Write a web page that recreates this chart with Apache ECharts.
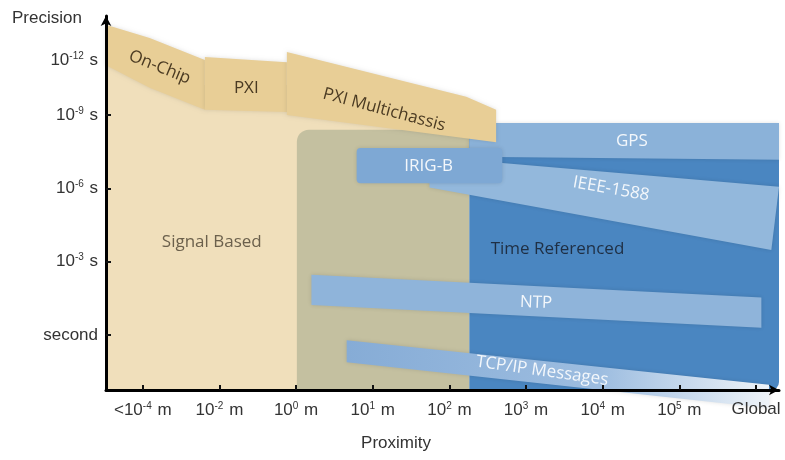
<!DOCTYPE html>
<html>
<head>
<meta charset="utf-8">
<script src="https://cdn.jsdelivr.net/npm/echarts@6/dist/echarts.min.js"></script>
<style>html,body{margin:0;padding:0;background:#fff}#c{width:785px;height:460px}</style>
</head>
<body>
<div id="c"></div>
<script>
// ---- data (x = proximity tick index, y = precision level: 0 = second, 1 = 1e-3 s, ...) ----
const xTickValues = [0, 1, 2, 3, 4, 5, 6, 7, 8];
const xTickLabels = ['<10^-4 m', '10^-2 m', '10^0 m', '10^1 m', '10^2 m', '10^3 m', '10^4 m', '10^5 m', 'Global'];
const yTickValues = [0, 1, 2, 3, 3.75];
const yTickLabels = ['second', '10^-3 s', '10^-6 s', '10^-9 s', '10^-12 s'];

const zoneNames = ['Signal Based', 'Overlap', 'Time Referenced'];
const zonePolygons = [
  [[-0.48, 4.02], [0.81, 3.41], [1.88, 3.41], [4.26, 2.86], [4.26, -0.75], [-0.48, -0.75]],
  [[2.01, 2.80], [4.26, 2.80], [4.26, -0.75], [2.01, -0.75]],
  [[4.26, 2.89], [8.30, 2.89], [8.30, -0.75], [4.26, -0.75]]
];
const zoneLabelAt = [[0.90, 1.26], null, [5.41, 1.17]];

const signalBandNames = ['On-Chip', 'PXI', 'PXI Multichassis'];
const signalBandPolygons = [
  [[-0.48, 4.23], [0.09, 4.05], [0.81, 3.75], [0.81, 3.07], [0.09, 3.37], [-0.48, 3.68]],
  [[0.81, 3.79], [1.88, 3.72], [1.88, 3.04], [0.81, 3.07]],
  [[1.88, 3.86], [4.22, 3.25], [4.61, 3.07], [4.61, 2.63], [1.88, 3.00]]
];
const signalBandLabelAt = [[0.22, 3.65], [1.35, 3.37], [3.15, 3.07]];
const signalBandLabelTilt = [-22, 0, -15];

const timeBandNames = ['GPS', 'IEEE-1588', 'IRIG-B', 'NTP', 'TCP/IP Messages'];
const timeBandPolygons = [
  [[4.26, 2.89], [8.30, 2.89], [8.30, 2.39], [4.26, 2.43]],
  [[3.74, 2.43], [8.30, 2.02], [8.20, 1.16], [3.74, 2.01]],
  [[2.79, 2.55], [4.69, 2.55], [4.69, 2.07], [2.79, 2.07]],
  [[2.20, 0.82], [8.07, 0.51], [8.07, 0.10], [2.20, 0.41]],
  [[2.66, -0.07], [8.17, -0.68], [8.17, -1.00], [2.66, -0.37]]
];
const timeBandLabelAt = [[6.38, 2.64], [6.11, 1.99], [3.73, 2.30], [5.13, 0.44], [5.21, -0.49]];
const timeBandLabelTilt = [0, -10, 0, -2, -8];

// ---- styles ----
const zoneColors = ['#f0dfbb', '#c4c0a0', '#4a86c1'];
const zoneCorner = [null, [12, 0, 0, 0], [0, 8, 8, 0]];
const zoneTextColors = ['#6b604c', null, '#1f2f44'];
const signalBandColor = '#e8ce96';
const timeBandColors = ['#8bb2d9', '#93b8dc', '#7ea8d4', '#8fb4da', 'grad'];
const timeBandCorner = [null, null, 4, null, null];
const axisFamily = '"Liberation Sans", Arial, sans-serif';
const bandFamily = '"Open Sans", "Noto Sans", sans-serif';

function supRich(s) {
  return s.replace(/\^(-?\d+)/, function (m, e) { return '{sup|' + e + '}'; });
}

const chart = echarts.init(document.getElementById('c'), null, { renderer: 'canvas' });

function polySeries(name, polys, colorFn, corners, z, shadow) {
  return {
    type: 'custom', name: name, z: z, silent: true,
    coordinateSystem: 'cartesian2d',
    data: polys.map(function (p) { return p[0]; }),
    renderItem: function (params, api) {
      const i = params.dataIndex;
      const pts = polys[i].map(function (p) { return api.coord(p); });
      const style = { fill: colorFn(i), shadowBlur: shadow, shadowColor: 'rgba(0,0,0,0.12)' };
      if (corners && corners[i] != null) {
        const xs = pts.map(function (p) { return p[0]; });
        const ys = pts.map(function (p) { return p[1]; });
        const x0 = Math.min.apply(null, xs), y0 = Math.min.apply(null, ys);
        return {
          type: 'rect',
          shape: { x: x0, y: y0, width: Math.max.apply(null, xs) - x0, height: Math.max.apply(null, ys) - y0, r: corners[i] },
          style: style
        };
      }
      return { type: 'polygon', shape: { points: pts }, style: style };
    }
  };
}

function labelSeries(name, texts, at, tilt, color, size, z) {
  return {
    type: 'custom', name: name, z: z, silent: true,
    coordinateSystem: 'cartesian2d',
    data: at.map(function (p) { return p ? p : [0, 0]; }),
    renderItem: function (params, api) {
      const i = params.dataIndex;
      if (!at[i]) return null;
      const pt = api.coord(at[i]);
      return {
        type: 'text', x: pt[0], y: pt[1],
        rotation: (tilt ? tilt[i] : 0) * Math.PI / 180,
        style: {
          text: texts[i], fill: Array.isArray(color) ? color[i] : color,
          font: size + 'px ' + bandFamily,
          align: 'center', verticalAlign: 'middle'
        }
      };
    }
  };
}

const supStyle = { fontFamily: axisFamily, fontSize: 10, color: '#333', padding: [0, 1, 8, 0] };

chart.setOption({
  animation: false,
  grid: { left: 106, right: 6, top: 16, bottom: 70 },
  xAxis: {
    type: 'value', min: -0.48, max: 8.3,
    splitLine: { show: false },
    axisLine: { show: true, lineStyle: { color: '#000', width: 3 }, symbol: ['none', 'arrow'], symbolSize: [8, 10], onZero: false },
    axisTick: { show: true, inside: true, length: 5, lineStyle: { color: '#111', width: 2 }, customValues: xTickValues },
    axisLabel: {
      customValues: xTickValues, margin: 11,
      formatter: function (v) { const i = xTickValues.indexOf(Math.round(v)); return i < 0 ? '' : supRich(xTickLabels[i]); },
      fontFamily: axisFamily, fontSize: 17, color: '#333',
      rich: { sup: supStyle }
    },
    z: 10
  },
  yAxis: {
    type: 'value', min: -0.75, max: 4.35,
    splitLine: { show: false },
    axisLine: { show: true, lineStyle: { color: '#000', width: 3 }, symbol: ['none', 'arrow'], symbolSize: [8, 10], onZero: false },
    axisTick: { show: true, inside: true, length: 5, lineStyle: { color: '#111', width: 2 }, customValues: [0, 1, 2, 3] },
    axisLabel: {
      customValues: yTickValues, margin: 8,
      formatter: function (v) {
        let idx = -1;
        yTickValues.forEach(function (t, i) { if (Math.abs(t - v) < 1e-6) idx = i; });
        return idx < 0 ? '' : supRich(yTickLabels[idx]);
      },
      fontFamily: axisFamily, fontSize: 17, color: '#333',
      rich: { sup: supStyle }
    },
    z: 10
  },
  graphic: [
    { type: 'text', x: 12, y: 18, style: { text: 'Precision', font: '17px ' + axisFamily, fill: '#333', verticalAlign: 'middle' } },
    { type: 'text', x: 396, y: 443, style: { text: 'Proximity', font: '17px ' + axisFamily, fill: '#333', align: 'center', verticalAlign: 'middle' } }
  ],
  series: [
    polySeries('zones', zonePolygons, function (i) { return zoneColors[i]; }, zoneCorner, 1, 0),
    polySeries('time bands', timeBandPolygons, function (i) {
      if (timeBandColors[i] === 'grad') {
        return new echarts.graphic.LinearGradient(0, 0, 1, 0, [
          { offset: 0, color: '#86acd6' }, { offset: 0.6, color: '#9dbde0' }, { offset: 1, color: '#eef3f8' }
        ]);
      }
      return timeBandColors[i];
    }, timeBandCorner, 2, 4),
    polySeries('signal bands', signalBandPolygons, function () { return signalBandColor; }, null, 3, 4),
    labelSeries('zone labels', zoneNames, zoneLabelAt, null, zoneTextColors, 17, 4),
    labelSeries('signal labels', signalBandNames, signalBandLabelAt, signalBandLabelTilt, '#4a3a22', 17, 4),
    labelSeries('time labels', timeBandNames, timeBandLabelAt, timeBandLabelTilt, '#f3f7fb', 17, 4)
  ]
});
</script>
</body>
</html>
